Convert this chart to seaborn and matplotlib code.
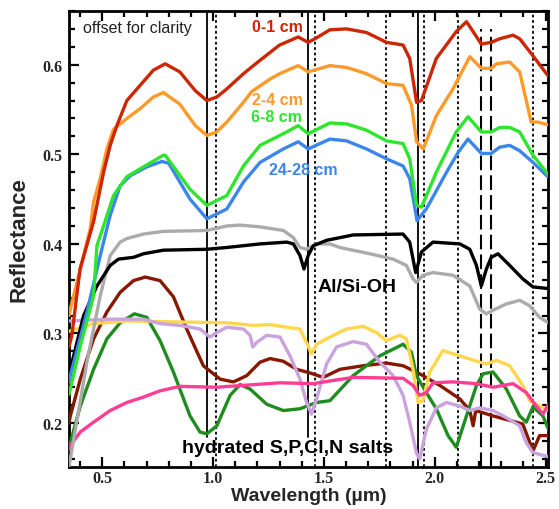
import numpy as np
import pandas as pd
import matplotlib
matplotlib.use("Agg")
import matplotlib.pyplot as plt
from matplotlib.ticker import MultipleLocator, FormatStrFormatter
import seaborn as sns

# ---------------- data ----------------
wl_red = [0.35, 0.363, 0.40, 0.461, 0.506, 0.536, 0.566, 0.611, 0.671, 0.731, 0.784, 0.85, 0.92, 0.972, 1.017, 1.062, 1.137, 1.212,
          1.30, 1.384, 1.429, 1.46, 1.527, 1.602, 1.692, 1.782, 1.857, 1.887, 1.918, 1.94, 2.007, 2.097, 2.143, 2.165, 2.21,
          2.255, 2.293, 2.353, 2.383, 2.443, 2.51]
r_red = [0.285, 0.298, 0.372, 0.425, 0.480, 0.510, 0.532, 0.560, 0.577, 0.594, 0.601, 0.592, 0.571, 0.560, 0.564, 0.573, 0.590, 0.605,
         0.622, 0.631, 0.625, 0.629, 0.639, 0.640, 0.636, 0.625, 0.622, 0.607, 0.558, 0.560, 0.607, 0.637, 0.648, 0.640, 0.623,
         0.625, 0.629, 0.633, 0.629, 0.610, 0.588]

wl_orange = [0.35, 0.356, 0.446, 0.461, 0.491, 0.521, 0.551, 0.611, 0.671, 0.731, 0.776, 0.85, 0.92, 0.972, 1.017, 1.062, 1.137, 1.174,
             1.257, 1.30, 1.384, 1.429, 1.527, 1.602, 1.692, 1.782, 1.857, 1.895, 1.918, 1.948, 2.007, 2.082, 2.105, 2.158, 2.21,
             2.255, 2.278, 2.338, 2.383, 2.435, 2.465, 2.51]
r_orange = [0.320, 0.327, 0.417, 0.447, 0.473, 0.506, 0.528, 0.540, 0.551, 0.564, 0.569, 0.556, 0.532, 0.521, 0.525, 0.536, 0.558, 0.570,
            0.584, 0.590, 0.599, 0.592, 0.599, 0.597, 0.590, 0.579, 0.577, 0.555, 0.514, 0.506, 0.543, 0.573, 0.584, 0.609, 0.596,
            0.596, 0.601, 0.603, 0.592, 0.536, 0.536, 0.533]

wl_green = [0.35, 0.356, 0.401, 0.461, 0.476, 0.506, 0.551, 0.611, 0.686, 0.776, 0.784, 0.896, 0.972, 1.062, 1.137, 1.212, 1.317,
            1.384, 1.429, 1.527, 1.602, 1.692, 1.782, 1.857, 1.887, 1.918, 1.94, 2.007, 2.097, 2.15, 2.21, 2.255, 2.293,
            2.338, 2.383, 2.443, 2.51]
r_green = [0.232, 0.238, 0.286, 0.342, 0.398, 0.420, 0.454, 0.475, 0.486, 0.499, 0.499, 0.461, 0.443, 0.454, 0.487, 0.510, 0.523,
           0.532, 0.523, 0.535, 0.534, 0.527, 0.515, 0.512, 0.495, 0.443, 0.441, 0.480, 0.525, 0.542, 0.525, 0.525, 0.530,
           0.530, 0.525, 0.499, 0.478]

wl_blue = [0.35, 0.356, 0.431, 0.491, 0.536, 0.581, 0.626, 0.701, 0.769, 0.80, 0.896, 0.972, 1.062, 1.137, 1.212, 1.317, 1.384,
           1.429, 1.527, 1.602, 1.692, 1.782, 1.857, 1.887, 1.92, 1.962, 2.053, 2.105, 2.15, 2.21, 2.255, 2.293, 2.338,
           2.383, 2.443, 2.51]
r_blue = [0.246, 0.253, 0.324, 0.387, 0.432, 0.465, 0.476, 0.486, 0.492, 0.490, 0.450, 0.428, 0.439, 0.469, 0.491, 0.506, 0.514,
          0.506, 0.517, 0.515, 0.506, 0.495, 0.487, 0.473, 0.426, 0.439, 0.480, 0.502, 0.517, 0.501, 0.501, 0.508, 0.510,
          0.504, 0.491, 0.475]

wl_gray = [0.35, 0.356, 0.431, 0.491, 0.536, 0.581, 0.611, 0.686, 0.776, 0.972, 1.062, 1.122, 1.212, 1.317, 1.362, 1.392, 1.422,
           1.467, 1.527, 1.572, 1.707, 1.812, 1.872, 1.902, 1.917, 1.947, 1.992, 2.082, 2.158, 2.203, 2.233, 2.263, 2.323,
           2.383, 2.428, 2.473, 2.518]
r_gray = [0.152, 0.160, 0.268, 0.342, 0.387, 0.402, 0.406, 0.411, 0.414, 0.415, 0.420, 0.421, 0.419, 0.415, 0.407, 0.396, 0.394,
          0.400, 0.400, 0.396, 0.389, 0.383, 0.376, 0.361, 0.357, 0.365, 0.368, 0.365, 0.353, 0.327, 0.322, 0.326, 0.333,
          0.337, 0.331, 0.318, 0.311]

wl_black = [0.35, 0.356, 0.416, 0.476, 0.536, 0.573, 0.641, 0.686, 0.776, 0.972, 1.062, 1.212, 1.332, 1.362, 1.392, 1.41, 1.429,
            1.452, 1.512, 1.632, 1.857, 1.887, 1.914, 1.94, 1.992, 2.113, 2.158, 2.188, 2.21, 2.233, 2.255, 2.285, 2.338,
            2.397, 2.443, 2.518]
r_black = [0.252, 0.260, 0.320, 0.353, 0.376, 0.383, 0.385, 0.389, 0.393, 0.394, 0.396, 0.400, 0.402, 0.400, 0.387, 0.372, 0.387,
           0.398, 0.404, 0.410, 0.411, 0.402, 0.368, 0.391, 0.402, 0.400, 0.394, 0.376, 0.353, 0.372, 0.385, 0.389, 0.376,
           0.361, 0.352, 0.350]

wl_maroon = [0.35, 0.356, 0.401, 0.461, 0.521, 0.581, 0.641, 0.694, 0.761, 0.821, 0.881, 0.956, 1.032, 1.092, 1.152, 1.212, 1.257,
             1.317, 1.377, 1.437, 1.497, 1.572, 1.677, 1.782, 1.857, 1.932, 2.023, 2.113, 2.158, 2.173, 2.185, 2.263, 2.338,
             2.397, 2.443, 2.473, 2.518]
r_maroon = [0.200, 0.208, 0.249, 0.294, 0.324, 0.346, 0.359, 0.363, 0.359, 0.341, 0.305, 0.264, 0.249, 0.246, 0.253, 0.268, 0.272,
            0.269, 0.260, 0.256, 0.251, 0.260, 0.264, 0.267, 0.264, 0.255, 0.242, 0.227, 0.214, 0.197, 0.214, 0.208, 0.203,
            0.199, 0.169, 0.186, 0.186]

wl_dkgreen = [0.35, 0.356, 0.401, 0.461, 0.521, 0.581, 0.645, 0.701, 0.761, 0.821, 0.896, 0.941, 0.972, 1.017, 1.077, 1.122, 1.167,
              1.242, 1.317, 1.392, 1.467, 1.527, 1.632, 1.752, 1.857, 1.895, 1.917, 1.962, 2.007, 2.06, 2.097, 2.143, 2.188,
              2.218, 2.263, 2.323, 2.383, 2.413, 2.443, 2.488, 2.518]
r_dkgreen = [0.170, 0.178, 0.219, 0.260, 0.294, 0.312, 0.322, 0.318, 0.292, 0.257, 0.208, 0.190, 0.188, 0.197, 0.231, 0.243, 0.238,
             0.221, 0.214, 0.216, 0.223, 0.225, 0.253, 0.275, 0.288, 0.279, 0.253, 0.234, 0.216, 0.186, 0.173, 0.208, 0.242,
             0.255, 0.257, 0.238, 0.208, 0.201, 0.218, 0.208, 0.190]

wl_yellow = [0.35, 0.356, 0.461, 0.611, 0.806, 1.062, 1.182, 1.257, 1.332, 1.392, 1.429, 1.444, 1.467, 1.482, 1.542, 1.602, 1.677,
             1.737, 1.782, 1.842, 1.872, 1.902, 1.925, 1.947, 1.977, 2.037, 2.113, 2.203, 2.233, 2.278, 2.338, 2.397, 2.428,
             2.473, 2.518]
r_yellow = [0.302, 0.303, 0.311, 0.314, 0.313, 0.312, 0.309, 0.310, 0.307, 0.305, 0.286, 0.277, 0.288, 0.290, 0.298, 0.305, 0.308,
            0.301, 0.292, 0.298, 0.294, 0.260, 0.223, 0.225, 0.257, 0.281, 0.275, 0.268, 0.266, 0.270, 0.264, 0.242, 0.225,
            0.219, 0.214]

wl_lavender = [0.35, 0.356, 0.536, 0.686, 0.761, 0.851, 0.941, 0.986, 1.017, 1.062, 1.137, 1.167, 1.179, 1.197, 1.242, 1.302, 1.347,
               1.392, 1.422, 1.444, 1.467, 1.512, 1.557, 1.632, 1.692, 1.752, 1.812, 1.857, 1.887, 1.917, 1.932, 1.962, 2.007,
               2.053, 2.113, 2.158, 2.203, 2.263, 2.323, 2.383, 2.413, 2.443, 2.518]
r_lavender = [0.314, 0.314, 0.316, 0.316, 0.311, 0.309, 0.305, 0.296, 0.301, 0.307, 0.305, 0.298, 0.285, 0.290, 0.298, 0.296, 0.275,
              0.249, 0.223, 0.210, 0.227, 0.266, 0.285, 0.291, 0.288, 0.268, 0.253, 0.231, 0.201, 0.167, 0.160, 0.193, 0.217,
              0.223, 0.219, 0.214, 0.217, 0.214, 0.206, 0.197, 0.178, 0.167, 0.162]

wl_pink = [0.35, 0.356, 0.401, 0.461, 0.536, 0.611, 0.686, 0.761, 0.851, 1.017, 1.302, 1.452, 1.527, 1.632, 1.857, 1.902, 1.932,
           1.962, 1.992, 2.082, 2.188, 2.263, 2.353, 2.413, 2.458, 2.488, 2.518]
r_pink = [0.172, 0.175, 0.190, 0.201, 0.214, 0.223, 0.229, 0.236, 0.241, 0.240, 0.245, 0.244, 0.247, 0.251, 0.250, 0.242, 0.231,
          0.234, 0.245, 0.246, 0.244, 0.240, 0.244, 0.234, 0.219, 0.210, 0.223]

series_names = ["maroon", "dkgreen", "yellow", "lavender", "pink", "gray", "black", "blue", "green", "orange", "red"]
series_wl = [wl_maroon, wl_dkgreen, wl_yellow, wl_lavender, wl_pink, wl_gray, wl_black, wl_blue, wl_green, wl_orange, wl_red]
series_r = [r_maroon, r_dkgreen, r_yellow, r_lavender, r_pink, r_gray, r_black, r_blue, r_green, r_orange, r_red]
series_colors = ["#861800", "#1f8c1f", "#ffd64d", "#c9a2de", "#ff3d94", "#ababab", "#000000", "#3a86ec", "#2ee52e", "#ff9a2a", "#cc2606"]

solid_lines = [0.972, 1.43]
solid_full = [1.925]
dotted_lines = [1.015, 1.46, 1.78, 1.95, 2.105, 2.445]
dashed_lines = [2.21, 2.255]

labels = ["0-1 cm", "2-4 cm", "6-8 cm", "24-28 cm"]

# ---------------- figure ----------------
sns.set_style("ticks")
plt.rcParams["font.family"] = ["Liberation Sans", "DejaVu Sans"]

fig = plt.figure(figsize=(5.59, 5.10), dpi=100)
ax = fig.add_axes([0.1234, 0.0824, 0.8566, 0.8941])

XMIN, XMAX, YMIN, YMAX = 0.35, 2.51, 0.151, 0.66

def frac(v):
    return (v - YMIN) / (YMAX - YMIN)

for x in solid_lines:
    ax.axvline(x, ymin=frac(0.185), ymax=1, color="black", lw=1.3, zorder=1)
for x in solid_full:
    ax.axvline(x, color="black", lw=1.3, zorder=1)
for x in dotted_lines:
    ax.axvline(x, color="black", lw=1.3, ls=(0, (1.5, 1.5)), zorder=1)
for x in dashed_lines:
    ax.axvline(x, ymin=0, ymax=frac(0.640), color="black", lw=1.5, ls=(0, (7, 2.5)), zorder=1)

for name, wl, r, c in zip(series_names, series_wl, series_r, series_colors):
    df = pd.DataFrame({"wl": wl, "r": r})
    sns.lineplot(data=df, x="wl", y="r", color=c, lw=2.4, ax=ax, estimator=None, sort=False, zorder=3)

ax.set_xlim(XMIN, XMAX)
ax.set_ylim(YMIN, YMAX)

ax.xaxis.set_major_locator(MultipleLocator(0.5))
ax.xaxis.set_minor_locator(MultipleLocator(0.1))
ax.yaxis.set_major_locator(MultipleLocator(0.1))
ax.yaxis.set_minor_locator(MultipleLocator(0.02))
ax.xaxis.set_major_formatter(FormatStrFormatter("%.1f"))
ax.yaxis.set_major_formatter(FormatStrFormatter("%.1f"))

ax.tick_params(which="both", direction="in", top=True, right=True, width=1.6, color="black")
ax.tick_params(which="major", length=7)
ax.tick_params(which="minor", length=4)
ax.tick_params(axis="y", which="major", pad=5)
ax.tick_params(axis="x", which="major", pad=2)
for lab in ax.get_xticklabels() + ax.get_yticklabels():
    lab.set_fontfamily(["Liberation Serif", "DejaVu Serif"])
    lab.set_fontweight("bold")
    lab.set_fontsize(11.5)

for s in ax.spines.values():
    s.set_linewidth(2.0)
    s.set_color("black")

ax.set_xlabel("Wavelength (\u00b5m)", fontsize=14, fontweight="bold", labelpad=1)
ax.set_ylabel("Reflectance", fontsize=16, fontweight="bold", labelpad=9)

ax.text(0.414, 0.637, "offset for clarity", fontsize=11.5, ha="left", va="baseline", color="#222222")
ax.text(1.176, 0.638, labels[0], fontsize=11.5, fontweight="bold", color="#cc2606", ha="left", va="baseline")
ax.text(1.176, 0.556, labels[1], fontsize=11.5, fontweight="bold", color="#ff9a2a", ha="left", va="baseline")
ax.text(1.172, 0.537, labels[2], fontsize=11.5, fontweight="bold", color="#2ee52e", ha="left", va="baseline")
ax.text(1.251, 0.478, labels[3], fontsize=11.5, fontweight="bold", color="#3a86ec", ha="left", va="baseline")
ax.text(1.47, 0.347, "Al/Si-OH", fontsize=14, fontweight="bold", color="black", ha="left", va="baseline", zorder=5)
ax.text(0.86, 0.168, "hydrated S,P,Cl,N salts", fontsize=14, fontweight="bold", color="black", ha="left", va="baseline", zorder=5)

fig.savefig("out.png", dpi=100)
